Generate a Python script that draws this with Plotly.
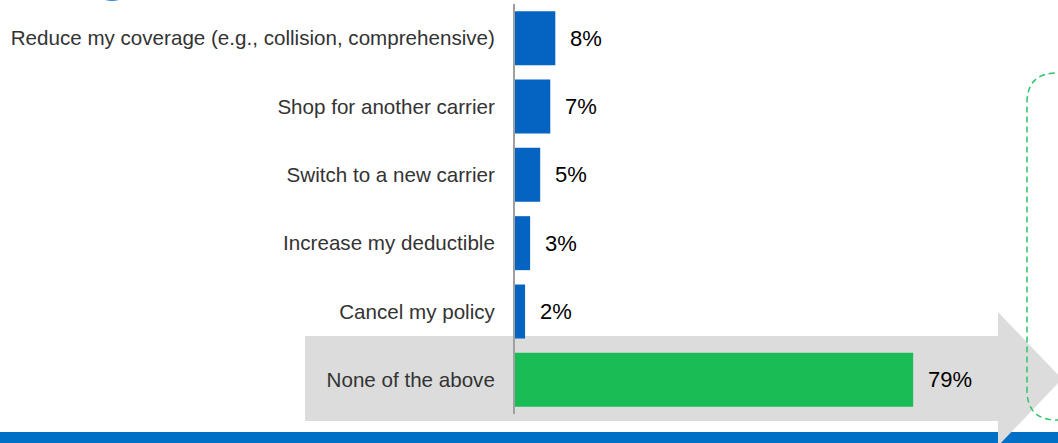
import plotly.graph_objects as go

# Survey responses (share of respondents)
categories = [
    "Reduce my coverage (e.g., collision, comprehensive)",
    "Shop for another carrier",
    "Switch to a new carrier",
    "Increase my deductible",
    "Cancel my policy",
    "None of the above",
]
values = [8, 7, 5, 3, 2, 79]
value_labels = ["8%", "7%", "5%", "3%", "2%", "79%"]
highlight = "None of the above"

W, H = 1058, 443
M_L, M_R, M_T, M_B = 515, 39, 4, 29
PLOT_W = W - M_L - M_R
PLOT_H = H - M_T - M_B

BLUE = "#0563C1"
GREEN = "#19BC55"


def px_x(px):
    return (px - M_L) / PLOT_W


def px_y(py):
    return (H - M_B - py) / PLOT_H


def path(points, close=True):
    s = "M " + " L ".join(f"{px_x(x):.5f},{px_y(y):.5f}" for x, y in points)
    return s + (" Z" if close else "")


colors = [GREEN if c == highlight else BLUE for c in categories]

fig = go.Figure(
    go.Bar(
        x=values,
        y=categories,
        orientation="h",
        marker=dict(color=colors, line=dict(width=0)),
        hoverinfo="skip",
    )
)

# value labels just past the end of each bar
for c, v, t in zip(categories, values, value_labels):
    fig.add_annotation(
        x=v, y=c, text=t, showarrow=False,
        xanchor="left", xshift=13,
        font=dict(family="Liberation Sans, Arial", size=22, color="#000000"),
    )

# grey arrow behind the highlighted row
arrow = [(305, 336), (998, 336), (998, 312), (1062, 379),
         (998, 446), (998, 421), (305, 421)]

# dashed rounded frame on the right
r = 30
fx, ft, fb = 1027, 73, 420
frame = (
    f"M {px_x(1075):.5f},{px_y(ft):.5f} L {px_x(fx + r):.5f},{px_y(ft):.5f} "
    f"Q {px_x(fx):.5f},{px_y(ft):.5f} {px_x(fx):.5f},{px_y(ft + r):.5f} "
    f"L {px_x(fx):.5f},{px_y(fb - r):.5f} "
    f"Q {px_x(fx):.5f},{px_y(fb):.5f} {px_x(fx + r):.5f},{px_y(fb):.5f} "
    f"L {px_x(1075):.5f},{px_y(fb):.5f}"
)

shapes = [
    # footer band
    dict(type="rect", xref="paper", yref="paper",
         x0=px_x(-5), x1=px_x(W + 5), y0=px_y(432), y1=px_y(H + 5),
         fillcolor="#0070C6", line=dict(width=0), layer="below"),
    dict(type="path", xref="paper", yref="paper", path=path(arrow),
         fillcolor="#DCDCDC", line=dict(width=0), layer="below"),
    dict(type="path", xref="paper", yref="paper", path=frame,
         line=dict(color="#2EC46A", width=1.5, dash="6px,4px"), layer="above"),
    # logo fragment at the top edge
    dict(type="circle", xref="paper", yref="paper",
         x0=px_x(112 - 24), x1=px_x(112 + 24), y0=px_y(1), y1=px_y(1 - 48),
         fillcolor="#2F86DC", line=dict(width=0), layer="below"),
]

fig.update_layout(
    width=W, height=H,
    margin=dict(l=M_L, r=M_R, t=M_T, b=M_B, pad=0),
    paper_bgcolor="white", plot_bgcolor="rgba(0,0,0,0)",
    bargap=0.21,
    showlegend=False,
    shapes=shapes,
    xaxis=dict(range=[0, PLOT_W / 5.04], visible=False, fixedrange=True),
    yaxis=dict(
        categoryorder="array", categoryarray=categories,
        autorange="reversed",
        showline=True, linecolor="#A0A0A0", linewidth=2,
        showgrid=False, zeroline=False,
        ticks="", ticklabelstandoff=14,
        tickfont=dict(family="Liberation Sans, Arial", size=20.6, color="#333333"),
    ),
)

fig.write_html("out.html")
